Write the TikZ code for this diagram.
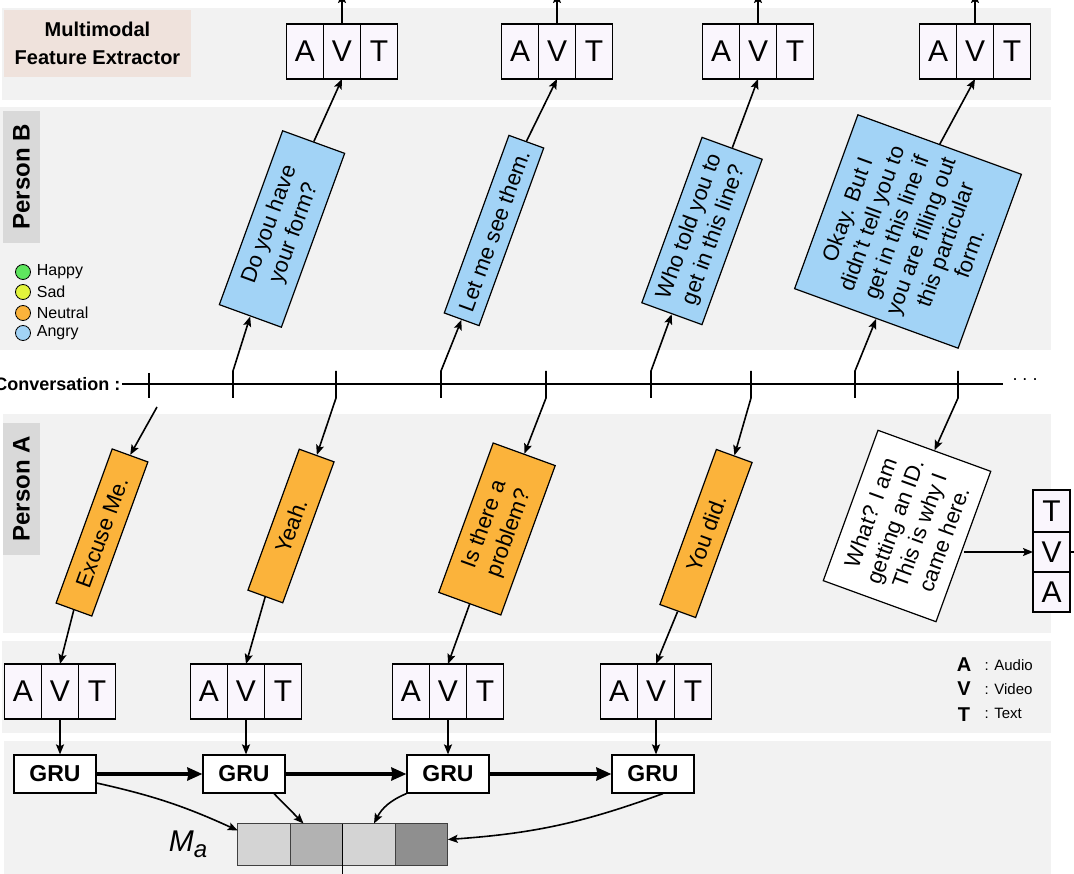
\documentclass[tikz,border=0pt]{standalone}
\usepackage{fontspec}
\setmainfont{Liberation Sans}
\usepackage[dvipsnames]{xcolor}
\usetikzlibrary{positioning,calc,arrows.meta}

\definecolor{bandgray}{HTML}{F2F2F2}
\definecolor{labelgray}{HTML}{D9D9D9}
\definecolor{labelpink}{HTML}{EFE2DC}
\definecolor{angryblue}{HTML}{A2D3F6}
\definecolor{neutralorange}{HTML}{FBB33B}
\definecolor{happygreen}{HTML}{5EE65E}
\definecolor{sadyellow}{HTML}{E3F53C}
\definecolor{cellfill}{HTML}{FAF6FD}

\begin{document}
\begin{tikzpicture}[x=1pt,y=-1pt,>={Stealth[length=10pt,width=8pt,inset=2pt]},line width=1.2pt,
    utt node/.style={draw,rotate=70,align=center,inner sep=2pt,font=\fontsize{22}{26}\selectfont},
    cell node/.style={draw,fill=cellfill,outer sep=0pt,inner sep=0pt,minimum width=37pt,minimum height=55pt,font=\fontsize{30}{30}\selectfont},
    gru node/.style={draw,fill=white,inner sep=0pt,minimum width=82pt,minimum height=38pt,font=\bfseries\fontsize{23}{23}\selectfont},
    mem node/.style={draw=black!75,outer sep=0pt,inner sep=0pt,minimum width=52.5pt,minimum height=42pt},
    tag node/.style={fill=labelgray,rotate=90,minimum width=132pt,minimum height=37pt,font=\bfseries\fontsize{24}{24}\selectfont},
    dot node/.style={circle,draw,line width=0.8pt,minimum size=15pt,inner sep=0pt},
    arr/.style={->,line width=1.6pt}]
    \useasboundingbox (0,0) rectangle (1074,874);
    \clip (0,0) rectangle (1074,874);

    % bands
    \fill[bandgray] (2,8) rectangle (1051,100);
    \fill[bandgray] (0,107) rectangle (1051,350);
    \fill[bandgray] (3,414) rectangle (1051,633);
    \fill[bandgray] (2,641) rectangle (1051,733);
    \fill[bandgray] (4,741) rectangle (1051,874);

    \node[fill=labelpink,minimum width=187pt,minimum height=67pt,align=center,font=\bfseries\fontsize{20}{28}\selectfont] (mfe) at (97.5,43.5) {Multimodal\\Feature Extractor};
    \node[tag node] (pb) at (21.5,177) {Person B};
    \node[tag node] (pa) at (21.5,489) {Person A};

    % legend
    \node[dot node,fill=happygreen] (l1) at (23,272) {};
    \node[dot node,fill=sadyellow] (l2) at (23,292) {};
    \node[dot node,fill=neutralorange] (l3) at (23,313) {};
    \node[dot node,fill=angryblue] (l4) at (23,333) {};
    \node[right=2pt of l1,font=\fontsize{16}{16}\selectfont] (l1t) {Happy};
    \node[right=2pt of l2,font=\fontsize{16}{16}\selectfont] (l2t) {Sad};
    \node[right=2pt of l3,font=\fontsize{16}{16}\selectfont] (l3t) {Neutral};
    \node[right=2pt of l4,font=\fontsize{16}{16}\selectfont] (l4t) {Angry};

    \node[anchor=center,font=\bfseries\fontsize{20}{20}\selectfont] (k1) at (964,665) {A};
    \node[anchor=center,font=\bfseries\fontsize{20}{20}\selectfont] (k2) at (964,689) {V};
    \node[anchor=center,font=\bfseries\fontsize{20}{20}\selectfont] (k3) at (964,715) {T};
    \node[anchor=west,inner sep=0pt,font=\fontsize{15}{15}\selectfont] (k1t) at (984,665) {: Audio};
    \node[anchor=west,inner sep=0pt,font=\fontsize{15}{15}\selectfont] (k2t) at (984,689) {: Video};
    \node[anchor=west,inner sep=0pt,font=\fontsize{15}{15}\selectfont] (k3t) at (984,713) {: Text};

    % top feature boxes
    \node[cell node] (t1v) at (342,51.5) {V};
    \node[cell node] (t1a) [left=0pt of t1v] {A};
    \node[cell node] (t1t) [right=0pt of t1v] {T};
    \node[cell node] (t2v) at (557,51.5) {V};
    \node[cell node] (t2a) [left=0pt of t2v] {A};
    \node[cell node] (t2t) [right=0pt of t2v] {T};
    \node[cell node] (t3v) at (758,51.5) {V};
    \node[cell node] (t3a) [left=0pt of t3v] {A};
    \node[cell node] (t3t) [right=0pt of t3v] {T};
    \node[cell node] (t4v) at (975,51.5) {V};
    \node[cell node] (t4a) [left=0pt of t4v] {A};
    \node[cell node] (t4t) [right=0pt of t4v] {T};

    % person B
    \node[utt node,fill=angryblue,minimum width=185pt,minimum height=66pt] (b1) at (282,229) {Do you have\\your form?};
    \node[utt node,fill=angryblue,minimum width=189pt,minimum height=37pt] (b2) at (494,230.5) {Let me see them.};
    \node[utt node,fill=angryblue,minimum width=176pt,minimum height=64pt] (b3) at (702,231) {Who told you to\\get in this line?};
    \node[utt node,fill=angryblue,minimum width=185pt,minimum height=174pt] (b4) at (908,231.5) {Okay. But I\\didn't tell you to\\get in this line if\\you are filling out\\this particular\\form.};

    % conversation
    \node[anchor=east,inner sep=1pt,font=\bfseries\fontsize{18}{18}\selectfont] (conv) at (122,384) {Conversation :};
    \node[font=\fontsize{18}{18}\selectfont] (more) at (1025,380) {.\ .\ .};
    \coordinate (cend) at (1003,384);
    \coordinate (c1) at (149,384);
    \coordinate (c2) at (233,384);
    \coordinate (c3) at (336,384);
    \coordinate (c4) at (441,384);
    \coordinate (c5) at (546,384);
    \coordinate (c6) at (651,384);
    \coordinate (c7) at (751,384);
    \coordinate (c8) at (855,384);
    \coordinate (c9) at (958,384);
    \coordinate (s1) at (157,407);
    \draw (conv.east) -- (cend);
    \draw ($(c1)+(0,-11)$) -- ($(c1)+(0,14)$);

    % person A
    \node[utt node,fill=neutralorange,minimum width=164pt,minimum height=38pt] (a1) at (102,532.5) {Excuse Me.};
    \node[utt node,fill=neutralorange,minimum width=150pt,minimum height=37pt] (a2) at (291,526) {Yeah.};
    \node[utt node,fill=neutralorange,minimum width=159pt,minimum height=66pt] (a3) at (497,529) {Is there a\\problem?};
    \node[utt node,fill=neutralorange,minimum width=165pt,minimum height=38pt] (a4) at (706,533.5) {You did.};
    \node[utt node,fill=white,minimum width=160pt,minimum height=120pt] (a5) at (907,526) {What? I am\\getting an ID.\\This is why I\\came here.};

    \node[cell node,minimum height=40pt] (r5v) at (1051.5,552) {V};
    \node[cell node,minimum height=42pt] (r5t) [above=0pt of r5v] {T};
    \node[cell node,minimum height=40pt] (r5a) [below=0pt of r5v] {A};

    % bottom feature boxes
    \node[cell node] (f1v) at (60,691.5) {V};
    \node[cell node] (f1a) [left=0pt of f1v] {A};
    \node[cell node] (f1t) [right=0pt of f1v] {T};
    \node[cell node] (f2v) at (246,691.5) {V};
    \node[cell node] (f2a) [left=0pt of f2v] {A};
    \node[cell node] (f2t) [right=0pt of f2v] {T};
    \node[cell node] (f3v) at (448,691.5) {V};
    \node[cell node] (f3a) [left=0pt of f3v] {A};
    \node[cell node] (f3t) [right=0pt of f3v] {T};
    \node[cell node] (f4v) at (656,691.5) {V};
    \node[cell node] (f4a) [left=0pt of f4v] {A};
    \node[cell node] (f4t) [right=0pt of f4v] {T};

    % GRU and memory
    \node[gru node] (g1) at (55,774) {GRU};
    \node[gru node] (g2) at (244,774) {GRU};
    \node[gru node] (g3) at (448,774) {GRU};
    \node[gru node] (g4) at (653,774) {GRU};
    \node[mem node,fill=black!17] (m1) at (264,844.5) {};
    \node[mem node,fill=black!30] (m2) [right=0pt of m1] {};
    \node[mem node,fill=black!17] (m3) [right=0pt of m2] {};
    \node[mem node,fill=black!44] (m4) [right=0pt of m3] {};
    \node[font=\itshape\fontsize{30}{30}\selectfont] (ma) at (188,844) {M\raisebox{-6pt}{\fontsize{24}{24}\selectfont a}};

    \coordinate (o1) at (342,-7);
    \coordinate (o2) at (557,-7);
    \coordinate (o3) at (758,-7);
    \coordinate (o4) at (975,-7);
    \coordinate (o5) at (1085,552);
    \coordinate (mout) at (m2.south east |- 0,885);

    % ticks to utterances
    \draw[arr] ($(c2)+(0,14)$) -- ($(c2)+(0,-13)$) -- (b1.west);
    \draw[arr] ($(c4)+(0,14)$) -- ($(c4)+(0,-13)$) -- (b2.west);
    \draw[arr] ($(c6)+(0,14)$) -- ($(c6)+(0,-13)$) -- (b3.west);
    \draw[arr] ($(c8)+(0,14)$) -- ($(c8)+(0,-13)$) -- (b4.west);
    \draw[arr] ($(c3)+(0,-13)$) -- ($(c3)+(0,14)$) -- (a2.east);
    \draw[arr] ($(c5)+(0,-13)$) -- ($(c5)+(0,14)$) -- (a3.east);
    \draw[arr] ($(c7)+(0,-13)$) -- ($(c7)+(0,14)$) -- (a4.east);
    \draw[arr] ($(c9)+(0,-13)$) -- ($(c9)+(0,14)$) -- (a5.east);

    \path[arr]
        (s1) edge (a1.east)
        (b1.east) edge (t1v.south)
        (b2.east) edge (t2v.south)
        (b3.east) edge (t3v.south)
        (b4.east) edge (t4v.south)
        (t1v.north) edge (o1)
        (t2v.north) edge (o2)
        (t3v.north) edge (o3)
        (t4v.north) edge (o4)
        (a1.west) edge (f1v.north)
        (a2.west) edge (f2v.north)
        (a3.west) edge (f3v.north)
        (a4.west) edge (f4v.north)
        (r5v.west -| a5.south) edge (r5v.west)
        (f1v.south) edge (f1v.south |- g1.north)
        (f2v.south) edge (f2v.south |- g2.north)
        (f3v.south) edge (f3v.south |- g3.north)
        (f4v.south) edge (f4v.south |- g4.north)
        ([yshift=-9pt]g1.east) edge[bend left=6] ([yshift=14pt]m1.west)
        ([xshift=30pt]g2.south) edge ([xshift=-13pt]m2.north)
        (g3.south west) edge[bend right=20] ([xshift=5pt]m3.north)
        ([xshift=10pt]g4.south) edge[bend left=8] ([yshift=5pt]m4.east)
        ;
    \path[-{Stealth[length=15pt,width=13pt,inset=1pt]},line width=3.2pt]
        (g1) edge (g2)
        (g2) edge (g3)
        (g3) edge (g4)
        ;
    \draw (r5v.east) -- (o5);
    \draw (m2.north east) -- (mout);
\end{tikzpicture}
\end{document}
